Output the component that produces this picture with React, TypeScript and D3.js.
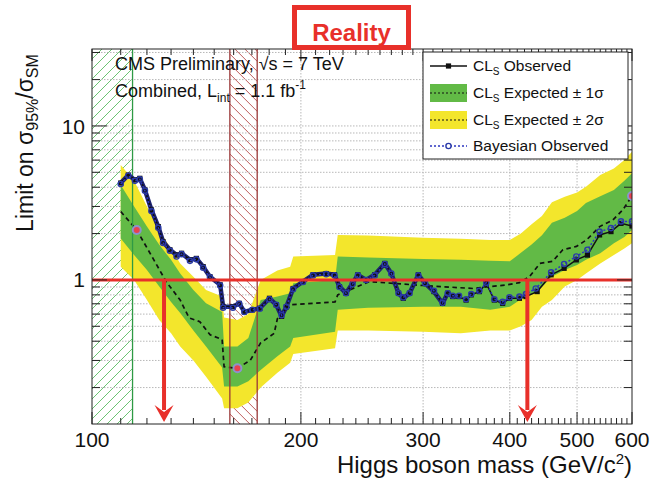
import React from 'react';
import * as d3 from 'd3';

const W = 650;
const H = 480;
const FRAME = { left: 92, right: 632, top: 49, bottom: 424 };
const FONT = '"Liberation Sans", Arial, Helvetica, sans-serif';

// Expected-limit bands (±1σ green, ±2σ yellow)
const bandMass = [110, 115, 120, 125, 130, 134, 140, 146, 154, 155, 162, 168, 175, 185, 193, 195, 224, 226, 250, 300, 340, 375, 400, 415, 430, 445, 460, 480, 500, 515, 540, 565, 585, 600];
const band2Lo = [1.22, 1.0, 0.74, 0.55, 0.45, 0.37, 0.30, 0.235, 0.17, 0.147, 0.147, 0.16, 0.20, 0.25, 0.29, 0.33, 0.36, 0.47, 0.47, 0.46, 0.45, 0.47, 0.47, 0.50, 0.55, 0.67, 0.74, 0.905, 1.0, 1.1, 1.28, 1.45, 1.6, 1.73];
const band1Lo = [1.86, 1.45, 1.16, 0.905, 0.72, 0.61, 0.47, 0.37, 0.27, 0.203, 0.203, 0.22, 0.26, 0.32, 0.37, 0.42, 0.46, 0.64, 0.66, 0.67, 0.67, 0.64, 0.67, 0.75, 0.80, 0.90, 1.05, 1.16, 1.25, 1.35, 1.49, 1.73, 1.9, 2.11];
const band1Hi = [4.14, 3.0, 2.22, 1.69, 1.35, 1.1, 0.86, 0.705, 0.62, 0.37, 0.37, 0.42, 0.74, 0.78, 0.82, 0.95, 1.0, 1.42, 1.40, 1.37, 1.35, 1.33, 1.32, 1.5, 1.7, 1.95, 2.35, 2.53, 2.8, 3.16, 3.5, 3.84, 4.4, 4.93];
const band2Hi = [5.58, 4.4, 3.0, 2.1, 1.6, 1.28, 1.05, 0.86, 0.78, 0.57, 0.55, 0.60, 1.0, 1.15, 1.22, 1.42, 1.45, 1.96, 1.94, 1.88, 1.85, 1.82, 1.82, 2.0, 2.3, 2.6, 3.2, 3.47, 3.7, 4.03, 4.8, 5.3, 6.0, 6.8];

// Median expected limit
const expMass = [110, 116, 122, 128, 134, 138, 143, 148, 154, 155, 162, 169, 175, 183, 185, 194, 224, 226, 251, 300, 354, 374, 396, 413, 427, 442, 461, 477, 499, 516, 539, 563, 582, 600];
const expMedian = [2.78, 2.11, 1.42, 0.97, 0.74, 0.567, 0.536, 0.44, 0.41, 0.273, 0.267, 0.30, 0.39, 0.45, 0.56, 0.69, 0.72, 0.80, 0.975, 0.92, 0.88, 0.905, 0.928, 0.96, 1.05, 1.28, 1.32, 1.57, 1.65, 1.82, 2.22, 2.45, 2.85, 3.51];

// Observed CLs limit
const obsMass = [110, 112.8, 115.3, 117.2, 119.2, 121.8, 124.6, 126.6, 129.5, 132.4, 134.6, 138.4, 141.4, 144.6, 147.9, 153, 154.5, 159.6, 163, 165.8, 170.3, 174.5, 180.2, 184.3, 187.6, 190.6, 194.9, 201.4, 208.2, 217.5, 223.6, 227.3, 232.3, 237.4, 241.6, 248.3, 255.5, 264.2, 270, 276.5, 280.9, 286.8, 295.3, 302, 311, 320, 325.5, 331, 338, 346, 352, 361.6, 370, 380, 390.6, 399.6, 413, 422, 438, 458.8, 479, 498.8, 517.5, 538.8, 559.6, 578.5, 600];
const obsLimit = [4.26, 4.8, 4.46, 4.57, 3.84, 2.85, 2.22, 1.77, 1.57, 1.45, 1.49, 1.35, 1.38, 1.22, 1.05, 0.93, 0.67, 0.67, 0.705, 0.62, 0.64, 0.655, 0.76, 0.69, 0.58, 0.67, 0.88, 0.975, 1.08, 1.1, 1.08, 0.905, 0.82, 0.95, 1.08, 1.0, 1.08, 1.28, 1.1, 0.82, 0.76, 0.82, 1.08, 0.95, 0.84, 0.705, 0.82, 0.78, 0.78, 0.74, 0.80, 0.84, 0.95, 0.74, 0.705, 0.76, 0.76, 0.78, 0.84, 1.08, 1.19, 1.35, 1.45, 1.96, 2.06, 2.33, 2.24];

// Bayesian observed limit
const bayMass = [110, 112.8, 115.3, 117.2, 119.2, 121.8, 124.6, 126.6, 129.5, 132.4, 134.6, 138.4, 141.4, 144.6, 147.9, 153, 154.5, 159.6, 163, 165.8, 170.3, 174.5, 180.2, 184.3, 187.6, 190.6, 194.9, 201.4, 208.2, 217.5, 223.6, 227.3, 232.3, 237.4, 241.6, 248.3, 255.5, 264.2, 270, 276.5, 280.9, 286.8, 295.3, 302, 311, 320, 325.5, 331, 338, 346, 352, 361.6, 370, 380, 390.6, 399.6, 413, 422, 436, 458.8, 479, 498.8, 517.5, 538.8, 559.6, 578.5, 600];
const bayLimit = [4.2, 4.75, 4.4, 4.5, 3.8, 2.8, 2.18, 1.74, 1.55, 1.42, 1.47, 1.33, 1.36, 1.2, 1.04, 0.92, 0.66, 0.66, 0.70, 0.62, 0.64, 0.65, 0.75, 0.69, 0.59, 0.67, 0.87, 0.97, 1.07, 1.09, 1.07, 0.9, 0.82, 0.94, 1.07, 1.0, 1.07, 1.27, 1.1, 0.82, 0.77, 0.82, 1.07, 0.95, 0.85, 0.71, 0.82, 0.79, 0.79, 0.75, 0.81, 0.85, 0.96, 0.75, 0.72, 0.77, 0.78, 0.81, 0.88, 1.12, 1.27, 1.42, 1.57, 2.06, 2.17, 2.4, 2.4];

// Highlighted points on the median expected curve
const markedMass = [116, 162, 600];
const markedLimit = [2.11, 0.267, 3.51];

// Excluded mass ranges (LEP, Tevatron) and arrow positions
const lepRange = [100, 114.4];
const tevRange = [158, 173];
const arrowMass = [127, 424];

// Below this mass the scan is fine-grained and the markers merge into a thick trace
const fineScanEnd = 340;

const xTickLabels = [100, 200, 300, 400, 500, 600];
const xGridMass = [200, 300, 400, 500];
const yTickLabels = [1, 10];

const RED = '#e8302a';
const GREEN = '#62ba46';
const YELLOW = '#f3e62c';
const NAVY = '#1d2270';

const HATCH_STEP = 10;

// Diagonal hatch lines clipped to a vertical strip
function Hatch({ id, x0, x1, top, bottom, color, rising }: { id: string; x0: number; x1: number; top: number; bottom: number; color: string; rising: boolean }) {
  const h = bottom - top;
  const offsets = d3.range(-h, x1 - x0 + HATCH_STEP, HATCH_STEP);
  return (
    <g>
      <clipPath id={id}>
        <rect x={x0} y={top} width={x1 - x0} height={h} />
      </clipPath>
      <g clipPath={`url(#${id})`}>
        {offsets.map((k) =>
          rising ? (
            <line key={k} x1={x0 + k} y1={bottom} x2={x0 + k + h} y2={top} stroke={color} strokeWidth={1} />
          ) : (
            <line key={k} x1={x0 + k} y1={top} x2={x0 + k + h} y2={bottom} stroke={color} strokeWidth={1} />
          )
        )}
      </g>
    </g>
  );
}

export default function App() {
  const x = d3.scaleLog().domain([100, 600]).range([FRAME.left, FRAME.right]);
  const y = d3.scaleLog().domain([0.116, 31.6]).range([FRAME.bottom, FRAME.top]);

  const idx = bandMass.map((_, i) => i);
  const band2 = d3.area<number>()
    .x((i) => x(bandMass[i]))
    .y0((i) => y(band2Lo[i]))
    .y1((i) => y(band2Hi[i]))(idx);
  const band1 = d3.area<number>()
    .x((i) => x(bandMass[i]))
    .y0((i) => y(band1Lo[i]))
    .y1((i) => y(band1Hi[i]))(idx);
  const medianPath = d3.line<number>()
    .x((i) => x(expMass[i]))
    .y((i) => y(expMedian[i]))(expMass.map((_, i) => i));
  const obsLine = d3.line<number>()
    .x((i) => x(obsMass[i]))
    .y((i) => y(obsLimit[i]));
  const obsPath = obsLine(obsMass.map((_, i) => i));
  const obsFinePath = obsLine(obsMass.map((_, i) => i).filter((i) => obsMass[i] <= fineScanEnd));
  const bayPath = d3.line<number>()
    .x((i) => x(bayMass[i]))
    .y((i) => y(bayLimit[i]))(bayMass.map((_, i) => i));

  // Tick values
  const [y0, y1] = y.domain();
  const yMinor: number[] = [];
  for (const dec of [0.1, 1, 10]) {
    for (let k = 1; k <= 9; k++) {
      const v = k * dec;
      if (v >= y0 && v <= y1 && !(k === 1 && (dec === 1 || dec === 10))) yMinor.push(v);
    }
  }
  const yMajor = yTickLabels;
  const xMinor = d3.range(110, 600, 10).filter((m) => m % 100 !== 0);
  const xMajor = xTickLabels;

  const gridY = [...yMinor, ...yMajor];

  const lepX0 = x(lepRange[0]);
  const lepX1 = x(lepRange[1]);
  const tevX0 = x(tevRange[0]);
  const tevX1 = x(tevRange[1]);

  const legendX = 423;
  const legendY = 52;
  const legendW = 205;
  const legendH = 107;
  const rowY = [66, 93, 120, 146];
  const symX0 = 430;
  const symX1 = 467;
  const symMid = (symX0 + symX1) / 2;
  const textX = 473;

  return (
    <svg
      width={W}
      height={H}
      viewBox={`0 0 ${W} ${H}`}
      style={{ position: 'absolute', left: 0, top: 0, background: '#fff' }}
      fontFamily={FONT}
    >
      <defs>
        <clipPath id="plotClip">
          <rect x={FRAME.left} y={FRAME.top} width={FRAME.right - FRAME.left} height={FRAME.bottom - FRAME.top} />
        </clipPath>
      </defs>

      <rect x={0} y={0} width={W} height={H} fill="#fff" />

      {/* excluded regions */}
      <Hatch id="lepClip" x0={lepX0} x1={lepX1} top={FRAME.top} bottom={FRAME.bottom} color="#6cc474" rising={true} />
      <Hatch id="tevClip" x0={tevX0} x1={tevX1} top={FRAME.top} bottom={FRAME.bottom} color="#bf5c5c" rising={false} />

      <g clipPath="url(#plotClip)">
        {/* grid */}
        {gridY.map((v) => (
          <line key={`gy${v}`} x1={FRAME.left} x2={FRAME.right} y1={y(v)} y2={y(v)} stroke="#b8b8b8" strokeWidth={1} strokeDasharray="1.5,1.5" />
        ))}
        {xGridMass.map((m) => (
          <line key={`gx${m}`} x1={x(m)} x2={x(m)} y1={FRAME.top} y2={FRAME.bottom} stroke="#b8b8b8" strokeWidth={1} strokeDasharray="1.5,1.5" />
        ))}

        {/* expected bands */}
        <path d={band2 ?? ''} fill={YELLOW} />
        <path d={band1 ?? ''} fill={GREEN} />
        <path d={medianPath ?? ''} fill="none" stroke="#111" strokeWidth={1.7} strokeDasharray="4.5,3.5" />

        {/* region boundaries */}
        <line x1={lepX1} x2={lepX1} y1={FRAME.top} y2={FRAME.bottom} stroke="#2f9a45" strokeWidth={1.3} />
        <line x1={tevX0} x2={tevX0} y1={FRAME.top} y2={FRAME.bottom} stroke="#9a3838" strokeWidth={1.3} />
        <line x1={tevX1} x2={tevX1} y1={FRAME.top} y2={FRAME.bottom} stroke="#9a3838" strokeWidth={1.3} />

        {/* observed CLs */}
        <path d={obsFinePath ?? ''} fill="none" stroke={NAVY} strokeWidth={4.5} strokeLinejoin="round" />
        <path d={obsPath ?? ''} fill="none" stroke="#111" strokeWidth={1.5} />
        {obsMass.map((m, i) => (
          <rect key={`o${i}`} x={x(m) - 2.6} y={y(obsLimit[i]) - 2.6} width={5.2} height={5.2} fill="#111" />
        ))}

        {/* Bayesian observed */}
        <path d={bayPath ?? ''} fill="none" stroke="#2c36c0" strokeWidth={1.5} strokeDasharray="2,2" />
        {bayMass.map((m, i) => (
          <circle key={`b${i}`} cx={x(m)} cy={y(bayLimit[i])} r={2.6} fill="none" stroke="#2a3aa8" strokeWidth={1.4} />
        ))}

        {/* highlighted expected points */}
        {markedMass.map((m, i) => (
          <circle key={`p${i}`} cx={x(m)} cy={y(markedLimit[i])} r={4} fill="#e8424f" stroke="#8c92cc" strokeWidth={2} />
        ))}

        {/* SM reference line */}
        <line x1={FRAME.left} x2={FRAME.right} y1={y(1)} y2={y(1)} stroke={RED} strokeWidth={3} />
      </g>

      {/* exclusion arrows */}
      {arrowMass.map((m) => {
        const ax = x(m);
        const top = y(1);
        const tip = FRAME.bottom - 2;
        return (
          <g key={`a${m}`}>
            <line x1={ax} x2={ax} y1={top} y2={tip - 12} stroke={RED} strokeWidth={4} />
            <path d={`M${ax - 9.5},${tip - 17} L${ax},${tip} L${ax + 9.5},${tip - 17} L${ax},${tip - 10} Z`} fill={RED} />
          </g>
        );
      })}

      {/* frame */}
      <rect x={FRAME.left} y={FRAME.top} width={FRAME.right - FRAME.left} height={FRAME.bottom - FRAME.top} fill="none" stroke="#222" strokeWidth={1} />

      {/* y ticks */}
      {yMinor.map((v) => (
        <g key={`ty${v}`}>
          <line x1={FRAME.left} x2={FRAME.left + 8} y1={y(v)} y2={y(v)} stroke="#222" />
          <line x1={FRAME.right} x2={FRAME.right - 8} y1={y(v)} y2={y(v)} stroke="#222" />
        </g>
      ))}
      {yMajor.map((v) => (
        <g key={`tY${v}`}>
          <line x1={FRAME.left} x2={FRAME.left + 15} y1={y(v)} y2={y(v)} stroke="#222" />
          <line x1={FRAME.right} x2={FRAME.right - 15} y1={y(v)} y2={y(v)} stroke="#222" />
          <text x={FRAME.left - 7} y={y(v)} dy="0.36em" textAnchor="end" fontSize={21} fill="#111">{v}</text>
        </g>
      ))}

      {/* x ticks */}
      {xMinor.map((m) => (
        <g key={`tx${m}`}>
          <line x1={x(m)} x2={x(m)} y1={FRAME.bottom} y2={FRAME.bottom - 6} stroke="#222" />
          <line x1={x(m)} x2={x(m)} y1={FRAME.top} y2={FRAME.top + 6} stroke="#222" />
        </g>
      ))}
      {xMajor.map((m) => (
        <g key={`tX${m}`}>
          <line x1={x(m)} x2={x(m)} y1={FRAME.bottom} y2={FRAME.bottom - 12} stroke="#222" />
          <line x1={x(m)} x2={x(m)} y1={FRAME.top} y2={FRAME.top + 12} stroke="#222" />
          <text x={x(m)} y={447} textAnchor="middle" fontSize={21} fill="#111">{m}</text>
        </g>
      ))}

      {/* axis titles */}
      <text x={FRAME.right} y={473} textAnchor="end" fontSize={24} fill="#111">
        Higgs boson mass (GeV/c<tspan dy={-9} fontSize={15}>2</tspan><tspan dy={9}>)</tspan>
      </text>
      <text transform="translate(33,143) rotate(-90)" textAnchor="middle" fontSize={23} fill="#111">
        Limit on σ<tspan dy={5} fontSize={16}>95%</tspan><tspan dy={-5}>/σ</tspan><tspan dy={5} fontSize={16}>SM</tspan>
      </text>

      {/* annotations */}
      <text x={115} y={70} fontSize={18} fill="#111">CMS Preliminary, √s = 7 TeV</text>
      <text x={115} y={97} fontSize={18} fill="#111">
        Combined, L<tspan dy={5} fontSize={12}>int</tspan><tspan dy={-5}> = 1.1 fb</tspan><tspan dy={-8} fontSize={12}>-1</tspan>
      </text>

      {/* legend */}
      <rect x={legendX} y={legendY} width={legendW} height={legendH} fill="#fff" stroke="#222" strokeWidth={1} />
      <line x1={symX0} x2={symX1} y1={rowY[0]} y2={rowY[0]} stroke="#111" strokeWidth={1.5} />
      <rect x={symMid - 2.6} y={rowY[0] - 2.6} width={5.2} height={5.2} fill="#111" />
      <rect x={symX0} y={rowY[1] - 9} width={symX1 - symX0} height={18} fill={GREEN} />
      <line x1={symX0} x2={symX1} y1={rowY[1]} y2={rowY[1]} stroke="#111" strokeWidth={1.2} strokeDasharray="2,2" />
      <rect x={symX0} y={rowY[2] - 9} width={symX1 - symX0} height={18} fill={YELLOW} />
      <line x1={symX0} x2={symX1} y1={rowY[2]} y2={rowY[2]} stroke="#111" strokeWidth={1.2} strokeDasharray="2,2" />
      <line x1={symX0} x2={symX1} y1={rowY[3]} y2={rowY[3]} stroke="#2c36c0" strokeWidth={1.5} strokeDasharray="2,2" />
      <circle cx={symMid} cy={rowY[3]} r={2.6} fill="#fff" stroke="#2a3aa8" strokeWidth={1.4} />

      <text x={textX} y={rowY[0] + 5} fontSize={15.5} fill="#111">
        CL<tspan dy={4} fontSize={10}>S</tspan><tspan dy={-4}> Observed</tspan>
      </text>
      <text x={textX} y={rowY[1] + 5} fontSize={15.5} fill="#111">
        CL<tspan dy={4} fontSize={10}>S</tspan><tspan dy={-4}> Expected ± 1σ</tspan>
      </text>
      <text x={textX} y={rowY[2] + 5} fontSize={15.5} fill="#111">
        CL<tspan dy={4} fontSize={10}>S</tspan><tspan dy={-4}> Expected ± 2σ</tspan>
      </text>
      <text x={textX} y={rowY[3] + 5} fontSize={15.5} fill="#111">Bayesian Observed</text>

      {/* title box */}
      <rect x={294.5} y={7.5} width={114} height={40} fill="#fff" stroke={RED} strokeWidth={5} />
      <text x={351.5} y={41} textAnchor="middle" fontSize={24} fontWeight="bold" fill={RED}>Reality</text>
    </svg>
  );
}
